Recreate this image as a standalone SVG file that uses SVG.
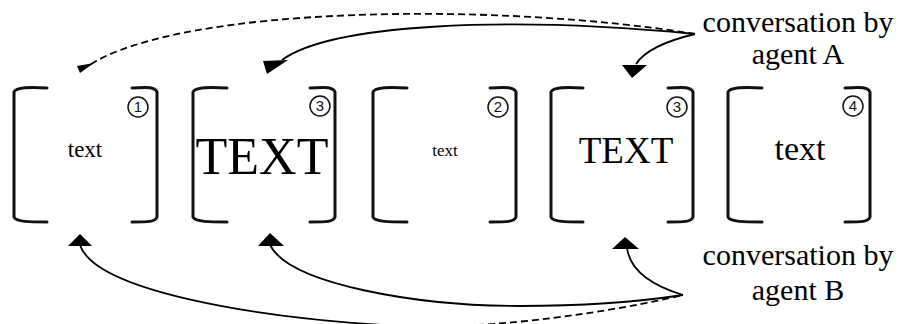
<svg xmlns="http://www.w3.org/2000/svg" width="900" height="324" viewBox="0 0 900 324">
<style>
.br{fill:none;stroke:#111;stroke-width:3;stroke-linecap:round}
.num{fill:none;stroke:#111;stroke-width:1.5}
.nt{font-family:"Liberation Sans",Arial,sans-serif;font-size:15px;fill:#111;text-anchor:middle}
.tx{font-family:"Liberation Serif","Times New Roman",serif;fill:#000;text-anchor:middle}
.cn{fill:none;stroke:#000;stroke-width:1.8}
.dash{stroke-dasharray:7,4}
.lbl{font-family:"Liberation Serif","Times New Roman",serif;font-size:30px;fill:#000;text-anchor:middle}
</style>
<rect width="900" height="324" fill="#fff"/>
<g id="node1">
<path class="br" d="M47,88 C30,87 16,87 14,92 V217 C16,222 30,222 47,222"/>
<path class="br" d="M132,88 C149,87 155,87 157,92 V217 C155,222 149,222 132,222"/>
<circle class="num" cx="138" cy="107" r="10"/><text class="nt" x="138" y="112">1</text>
<text class="tx" x="85" y="157" font-size="23">text</text>
</g>
<g id="node2">
<path class="br" d="M227,88 C210,87 195,87 193,92 V217 C195,222 210,222 227,222"/>
<path class="br" d="M310,88 C327,87 333,87 335,92 V217 C333,222 327,222 310,222"/>
<circle class="num" cx="320" cy="106" r="10"/><text class="nt" x="320" y="111">3</text>
<text class="tx" x="262" y="174" font-size="52">TEXT</text>
</g>
<g id="node3">
<path class="br" d="M407,88 C390,87 375,87 373,92 V217 C375,222 390,222 407,222"/>
<path class="br" d="M490,88 C507,87 514,87 516,92 V217 C514,222 507,222 490,222"/>
<circle class="num" cx="498" cy="107" r="10"/><text class="nt" x="498" y="112">2</text>
<text class="tx" x="445" y="156" font-size="17">text</text>
</g>
<g id="node4">
<path class="br" d="M583,88 C566,87 553,87 551,92 V217 C553,222 566,222 583,222"/>
<path class="br" d="M668,88 C685,87 691,87 693,92 V217 C691,222 685,222 668,222"/>
<circle class="num" cx="677" cy="107" r="10"/><text class="nt" x="677" y="112">3</text>
<text class="tx" x="626" y="163" font-size="37">TEXT</text>
</g>
<g id="node5">
<path class="br" d="M762,88 C745,87 730,87 728,92 V217 C730,222 745,222 762,222"/>
<path class="br" d="M845,88 C862,87 868,87 870,92 V217 C868,222 862,222 845,222"/>
<circle class="num" cx="853" cy="106" r="10"/><text class="nt" x="853" y="111">4</text>
<text class="tx" x="800" y="160" font-size="34">text</text>
</g>
<g id="labels">
<text class="lbl" x="798" y="32">conversation by</text>
<text class="lbl" x="798" y="64">agent A</text>
<text class="lbl" x="798" y="265">conversation by</text>
<text class="lbl" x="798" y="300">agent B</text>
</g>
<g id="connectors">
<path class="cn dash" d="M695,34 C500,2 180,5 88,66"/>
<polygon points="80,73 77,66 94,63" fill="#000"/>
<path class="cn" d="M695,34 C500,15 330,25 282,60"/>
<polygon points="267,74 263,61 288,60" fill="#000"/>
<path class="cn" d="M695,34 C670,40 645,50 636,64"/>
<polygon points="632,78 622,65 647,65" fill="#000"/>
<path class="cn" d="M80,245 C95,290 250,318 400,326"/>
<path class="cn dash" d="M400,326 C500,330 620,310 683,295"/>
<polygon points="80,234 68,246 92,246" fill="#000"/>
<path class="cn" d="M270,245 C290,285 420,306 520,306 C600,306 650,300 683,295"/>
<polygon points="270,233 258,246 284,246" fill="#000"/>
<path class="cn" d="M627,248 C630,270 650,285 683,295"/>
<polygon points="625,237 612,249 639,249" fill="#000"/>
</g>
</svg>
